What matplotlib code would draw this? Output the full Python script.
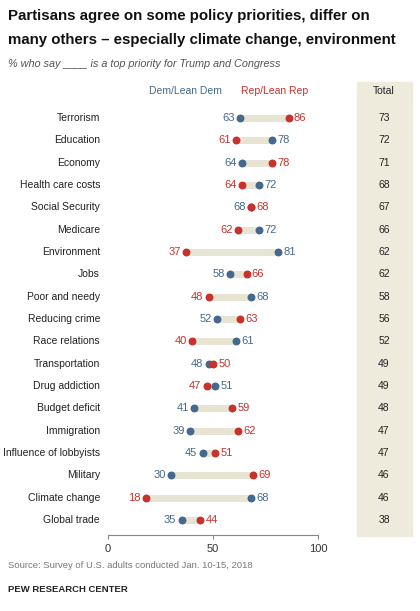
import matplotlib
matplotlib.use("Agg")
import matplotlib.pyplot as plt
from matplotlib.patches import Rectangle

plt.rcParams['font.family'] = ['Liberation Sans', 'DejaVu Sans']

categories = ["Terrorism","Education","Economy","Health care costs","Social Security","Medicare",
              "Environment","Jobs","Poor and needy","Reducing crime","Race relations","Transportation",
              "Drug addiction","Budget deficit","Immigration","Influence of lobbyists","Military",
              "Climate change","Global trade"]
dem = [63,78,64,72,68,72,81,58,68,52,61,48,51,41,39,45,30,68,35]
rep = [86,61,78,64,68,62,37,66,48,63,40,50,47,59,62,51,69,18,44]
total = [73,72,71,68,67,66,62,62,58,56,52,49,49,48,47,47,46,46,38]

W, H = 420, 611
fig = plt.figure(figsize=(W/100, H/100), dpi=100)
DC, RC = "#44688e", "#c8322b"
BEIGE = "#e8e4d3"

def fx(px): return px / W
def fy(py): return 1 - py / H

step = (520 - 118) / 18
top_px, bot_px = 100, 535
ax = fig.add_axes([fx(108), fy(bot_px), fx(318) - fx(108), (bot_px - top_px) / H])
ax.set_xlim(0, 100)
ax.set_ylim((bot_px - 118) / step, -(118 - top_px) / step)
for s in ax.spines.values():
    s.set_visible(False)
ax.spines["bottom"].set_visible(True)
ax.spines["bottom"].set_color("#888888")
ax.set_xticks([0, 50, 100])
ax.tick_params(axis="x", length=3, colors="#888888", labelcolor="#333333", labelsize=8)
ax.set_yticks([])

for i, (d, r) in enumerate(zip(dem, rep)):
    lo, hi = min(d, r), max(d, r)
    ax.plot([lo, hi], [i, i], color=BEIGE, lw=5, solid_capstyle="round", zorder=1)
    ax.scatter([d], [i], color=DC, s=22, zorder=3)
    ax.scatter([r], [i], color=RC, s=22, zorder=3)
    if d <= r:
        left, lc, right, rc = d, DC, r, RC
    else:
        left, lc, right, rc = r, RC, d, DC
    ax.text(left - 2.5, i, str(left), ha="right", va="center", color=lc, fontsize=8)
    ax.text(right + 2.5, i, str(right), ha="left", va="center", color=rc, fontsize=8)
    fig.text(fx(100), fy(118 + i * step), categories[i], ha="right", va="center", fontsize=7.5, color="#222222")
    fig.text(fx(384), fy(118 + i * step), str(total[i]), ha="center", va="center", fontsize=7.5, color="#222222")

fig.patches.append(Rectangle((fx(357), fy(536)), fx(412) - fx(357), (536 - 82) / H,
                             transform=fig.transFigure, color="#eeebdc", zorder=0))
fig.text(fx(384), fy(91), "Total", ha="center", va="center", fontsize=7.5, color="#222222")
fig.text(fx(185), fy(91), "Dem/Lean Dem", ha="center", va="center", fontsize=7.5, color=DC)
fig.text(fx(275), fy(91), "Rep/Lean Rep", ha="center", va="center", fontsize=7.5, color=RC)

fig.text(fx(8), fy(16), "Partisans agree on some policy priorities, differ on", fontsize=10.8,
         fontweight="bold", va="center", ha="left", color="#111111")
fig.text(fx(8), fy(40), "many others \u2013 especially climate change, environment", fontsize=10.8,
         fontweight="bold", va="center", ha="left", color="#111111")
fig.text(fx(8), fy(64), "% who say ____ is a top priority for Trump and Congress", fontsize=7.8,
         style="italic", va="center", ha="left", color="#555555")
fig.text(fx(8), fy(566), "Source: Survey of U.S. adults conducted Jan. 10-15, 2018", fontsize=6.8,
         va="center", ha="left", color="#777777")
fig.text(fx(8), fy(590), "PEW RESEARCH CENTER", fontsize=6.8, fontweight="bold",
         va="center", ha="left", color="#222222")

fig.savefig("out.png", dpi=100, facecolor="white")
